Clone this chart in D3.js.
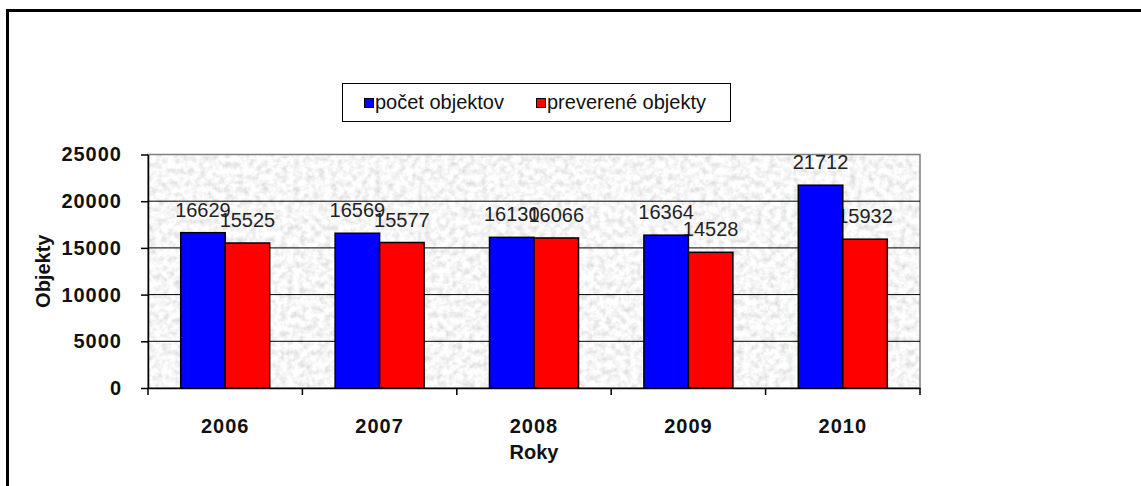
<!DOCTYPE html>
<html>
<head>
<meta charset="utf-8">
<script src="https://cdn.jsdelivr.net/npm/d3@7"></script>
<style>
  html, body { margin: 0; padding: 0; background: #fff; }
  svg { display: block; }
  text { font-family: Arial, "Liberation Sans", sans-serif; }
</style>
</head>
<body>
<svg id="chart" width="1141" height="486"></svg>
<script>
// Data
const years = ["2006", "2007", "2008", "2009", "2010"];
const pocetObjektov = [16629, 16569, 16130, 16364, 21712];
const prevereneObjekty = [15525, 15577, 16066, 14528, 15932];
const seriesNames = ["počet objektov", "preverené objekty"];
const seriesColors = ["#0000ff", "#ff0000"];
const yTicks = [0, 5000, 10000, 15000, 20000, 25000];

const svg = d3.select("#chart");
const W = 1141, H = 486;
const plot = { left: 148, right: 920, top: 154.5, bottom: 388 };

// Granite-like texture for the plot area
const defs = svg.append("defs");
const f = defs.append("filter").attr("id", "granite")
  .attr("x", 0).attr("y", 0).attr("width", 1).attr("height", 1)
  .attr("filterUnits", "objectBoundingBox");
f.append("feTurbulence").attr("type", "fractalNoise")
  .attr("baseFrequency", "0.16").attr("numOctaves", 4).attr("seed", 11).attr("result", "n");
f.append("feColorMatrix").attr("in", "n").attr("type", "matrix")
  .attr("values", "0.55 0 0 0 0.65  0.55 0 0 0 0.65  0.55 0 0 0 0.65  0 0 0 0 1");

// Outer frame
svg.append("rect")
  .attr("x", 7.5).attr("y", 10.5).attr("width", W + 10).attr("height", H + 10)
  .attr("fill", "#fff").attr("stroke", "#000").attr("stroke-width", 3);

// Scales
const x = d3.scaleBand().domain(years).range([plot.left, plot.right]).padding(0);
const xs = d3.scaleBand().domain(seriesNames).range([0, x.bandwidth()])
  .paddingInner(0).paddingOuter(0.735);
const y = d3.scaleLinear().domain([0, 25000]).range([plot.bottom, plot.top]);

// Plot background
svg.append("rect")
  .attr("x", plot.left).attr("y", plot.top)
  .attr("width", plot.right - plot.left).attr("height", plot.bottom - plot.top)
  .attr("fill", "#ebebeb").attr("filter", "url(#granite)");
svg.append("rect")
  .attr("x", plot.left).attr("y", plot.top)
  .attr("width", plot.right - plot.left).attr("height", plot.bottom - plot.top)
  .attr("fill", "none").attr("stroke", "#808080").attr("stroke-width", 1.5);

// Gridlines
svg.append("g").selectAll("line")
  .data(yTicks.filter(d => d > 0 && d < 25000))
  .join("line")
  .attr("x1", plot.left).attr("x2", plot.right)
  .attr("y1", d => y(d)).attr("y2", d => y(d))
  .attr("stroke", "#000").attr("stroke-width", 1);

// Rows of grouped values
const rows = years.map((yr, i) => ({ year: yr, values: [pocetObjektov[i], prevereneObjekty[i]] }));

// Value labels (drawn under the bars)
const labelG = svg.append("g");
rows.forEach(r => {
  r.values.forEach((v, k) => {
    labelG.append("text")
      .attr("x", x(r.year) + xs(seriesNames[k]) + xs.bandwidth() / 2)
      .attr("y", y(v) - 16)
      .attr("text-anchor", "middle")
      .attr("font-size", 20)
      .attr("fill", "#222")
      .text(v);
  });
});

// Bars
const barG = svg.append("g");
rows.forEach(r => {
  barG.selectAll(null)
    .data(r.values)
    .join("rect")
    .attr("x", (v, k) => x(r.year) + xs(seriesNames[k]))
    .attr("y", v => y(v))
    .attr("width", xs.bandwidth())
    .attr("height", v => y(0) - y(v))
    .attr("fill", (v, k) => seriesColors[k])
    .attr("stroke", "#000").attr("stroke-width", 1.5);
});

// Y axis
const yAxis = svg.append("g")
  .attr("transform", `translate(${plot.left},0)`)
  .call(d3.axisLeft(y).tickValues(yTicks).tickFormat(d3.format("d"))
    .tickSize(7).tickPadding(19).tickSizeOuter(0));
yAxis.select(".domain").attr("stroke", "#000").attr("stroke-width", 1.5);
yAxis.selectAll(".tick line").attr("stroke", "#000").attr("stroke-width", 1.5);
yAxis.selectAll(".tick text")
  .attr("font-size", 20).attr("font-weight", "bold").attr("fill", "#111")
  .attr("font-family", "Arial, 'Liberation Sans', sans-serif")
  .attr("letter-spacing", 1);

// X axis: line, boundary ticks, centered labels
const xAxis = svg.append("g")
  .attr("transform", `translate(0,${plot.bottom})`)
  .call(d3.axisBottom(x).tickSize(0).tickPadding(0).tickSizeOuter(0));
xAxis.select(".domain").attr("stroke", "#000").attr("stroke-width", 1.5);
xAxis.selectAll(".tick text")
  .attr("y", 45).attr("dy", 0)
  .attr("font-size", 20).attr("font-weight", "bold").attr("fill", "#111")
  .attr("font-family", "Arial, 'Liberation Sans', sans-serif")
  .attr("letter-spacing", 1);
const bounds = years.map(d => x(d)).concat([x(years[years.length - 1]) + x.bandwidth()]);
svg.append("g").selectAll("line")
  .data(bounds)
  .join("line")
  .attr("x1", d => d).attr("x2", d => d)
  .attr("y1", plot.bottom).attr("y2", plot.bottom + 7)
  .attr("stroke", "#000").attr("stroke-width", 1.5);

// Axis titles
svg.append("text")
  .attr("x", (plot.left + plot.right) / 2).attr("y", 459)
  .attr("text-anchor", "middle")
  .attr("font-size", 20).attr("font-weight", "bold").attr("fill", "#111")
  .text("Roky");
svg.append("text")
  .attr("transform", `translate(50,${(plot.top + plot.bottom) / 2}) rotate(-90)`)
  .attr("text-anchor", "middle")
  .attr("font-size", 20).attr("font-weight", "bold").attr("fill", "#111")
  .text("Objekty");

// Legend
const legend = svg.append("g");
legend.append("rect")
  .attr("x", 342.5).attr("y", 83.5).attr("width", 388).attr("height", 38)
  .attr("fill", "#fff").attr("stroke", "#000").attr("stroke-width", 1);
const legendX = [364, 536];
seriesNames.forEach((name, k) => {
  legend.append("rect")
    .attr("x", legendX[k] + 0.5).attr("y", 98.5).attr("width", 9).attr("height", 9)
    .attr("fill", seriesColors[k]).attr("stroke", "#000").attr("stroke-width", 1);
  legend.append("text")
    .attr("x", legendX[k] + 11).attr("y", 109)
    .attr("font-size", 20).attr("fill", "#111")
    .text(name);
});
</script>
</body>
</html>
